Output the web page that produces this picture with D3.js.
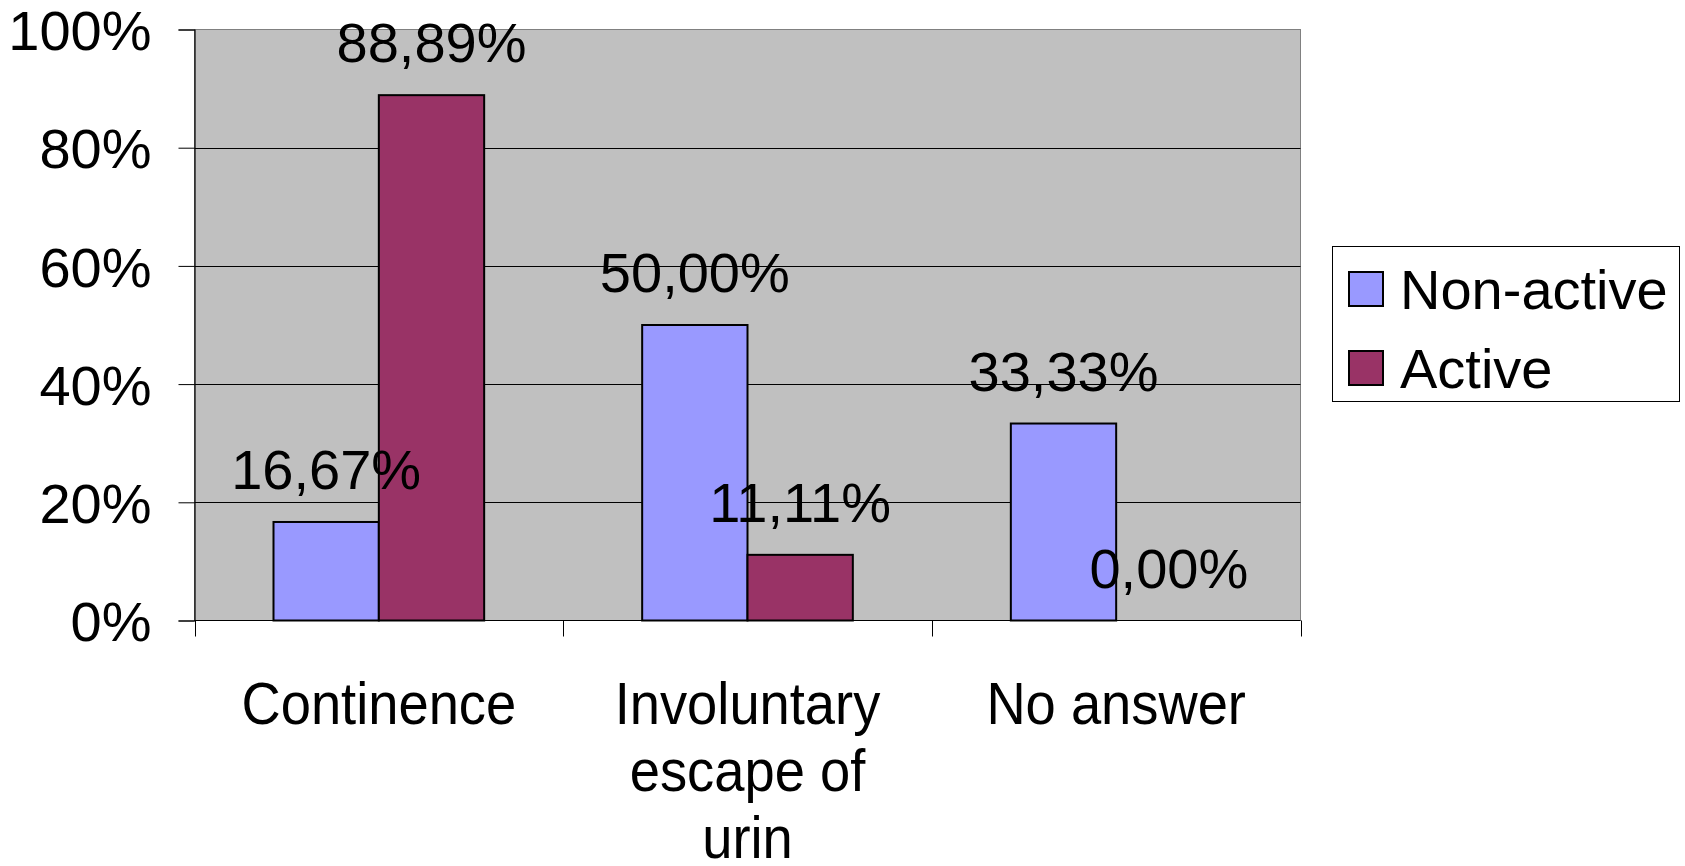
<!DOCTYPE html>
<html>
<head>
<meta charset="utf-8">
<script src="https://cdn.jsdelivr.net/npm/d3@7"></script>
<style>
  html, body { margin: 0; padding: 0; background: #fff; }
  svg { display: block; font-family: "Liberation Sans", Arial, sans-serif; }
</style>
</head>
<body>
<svg id="chart" width="1685" height="866"></svg>
<script>
// Survey answers, share of respondents per group (%)
const categories = ["Continence", "Involuntary escape of urin", "No answer"];
const categoryLines = [["Continence"], ["Involuntary", "escape of", "urin"], ["No answer"]];
const seriesNames = ["Non-active", "Active"];
const nonActive = [16.67, 50.00, 33.33];
const active = [88.89, 11.11, 0.00];
const yTicks = [0, 20, 40, 60, 80, 100];
const seriesColors = ["#9999FF", "#993366"];

const svg = d3.select("#chart");
const plot = { left: 194.5, right: 1300.5, top: 29.5, bottom: 620.5 };
const fontSize = 56;

const x = d3.scaleBand().domain(categories).range([plot.left, plot.right]);
// bars take 2 of 3.5 slots in each category (gap width 150%)
const barW = x.bandwidth() / 3.5;
const y = d3.scaleLinear().domain([0, 100]).range([plot.bottom, plot.top]);

const fmt = v => v.toFixed(2).replace(".", ",") + "%";

// plot background
svg.append("rect")
  .attr("x", plot.left).attr("y", plot.top)
  .attr("width", plot.right - plot.left).attr("height", plot.bottom - plot.top)
  .attr("fill", "#C0C0C0").attr("stroke", "#808080").attr("stroke-width", 1);

// horizontal gridlines
svg.append("g").selectAll("line")
  .data(yTicks.filter(t => t > 0 && t < 100))
  .join("line")
  .attr("x1", plot.left).attr("x2", plot.right)
  .attr("y1", d => Math.round(y(d)) + 0.5).attr("y2", d => Math.round(y(d)) + 0.5)
  .attr("stroke", "#000").attr("stroke-width", 1);

// bars
const series = [nonActive, active];
series.forEach((vals, si) => {
  svg.append("g").selectAll("rect")
    .data(categories)
    .join("rect")
    .attr("x", (c) => x(c) + 0.75 * barW + si * barW)
    .attr("y", (c, i) => y(vals[i]))
    .attr("width", barW)
    .attr("height", (c, i) => y(0) - y(vals[i]))
    .attr("fill", seriesColors[si])
    .attr("stroke", "#000").attr("stroke-width", 2);
});

// y axis
const yAxis = d3.axisLeft(y).tickValues(yTicks).tickSize(16).tickPadding(27)
  .tickFormat(d => d + "%");
const gy = svg.append("g").attr("transform", `translate(${plot.left},0)`).call(yAxis);
gy.select(".domain").attr("stroke", "#000").attr("stroke-width", 1.2);
gy.selectAll(".tick line").attr("stroke", "#000");
gy.selectAll(".tick text").attr("font-size", fontSize).attr("fill", "#000")
  .attr("font-family", "Liberation Sans, Arial, sans-serif").attr("dy", "0.36em");

// x axis line and category separators
svg.append("line")
  .attr("x1", plot.left).attr("x2", plot.right)
  .attr("y1", plot.bottom).attr("y2", plot.bottom)
  .attr("stroke", "#000").attr("stroke-width", 1.2);
const bounds = categories.map(c => x(c)).concat([x(categories[categories.length - 1]) + x.bandwidth()]);
svg.append("g").selectAll("line")
  .data(bounds).join("line")
  .attr("x1", d => Math.round(d) + 0.5).attr("x2", d => Math.round(d) + 0.5)
  .attr("y1", plot.bottom).attr("y2", plot.bottom + 16)
  .attr("stroke", "#000").attr("stroke-width", 1);

// category labels: slightly condensed, one text per wrapped line
const lineGap = 67;
categories.forEach((c, i) => {
  const cx = x(c) + x.bandwidth() / 2;
  categoryLines[i].forEach((ln, k) => {
    const by = 724 + k * lineGap;
    svg.append("text")
      .attr("transform", `translate(${cx},${by}) scale(0.97,1.06)`)
      .attr("text-anchor", "middle")
      .attr("font-size", fontSize)
      .attr("fill", "#000")
      .text(ln);
  });
});

// value labels above bars
series.forEach((vals, si) => {
  svg.append("g").selectAll("text")
    .data(categories)
    .join("text")
    .attr("x", c => x(c) + 0.75 * barW + si * barW + barW / 2)
    .attr("y", (c, i) => y(vals[i]) - 33)
    .attr("text-anchor", "middle")
    .attr("font-size", fontSize)
    .attr("fill", "#000")
    .text((c, i) => fmt(vals[i]));
});

// legend
const lg = svg.append("g");
lg.append("rect")
  .attr("x", 1332.5).attr("y", 246.5).attr("width", 347).attr("height", 155)
  .attr("fill", "#fff").attr("stroke", "#000").attr("stroke-width", 1);
seriesNames.forEach((name, i) => {
  const cy = 289 + i * 79;
  lg.append("rect")
    .attr("x", 1349).attr("y", cy - 17).attr("width", 34).attr("height", 34)
    .attr("fill", seriesColors[i]).attr("stroke", "#000").attr("stroke-width", 2);
  lg.append("text")
    .attr("x", 1400).attr("y", cy + 20)
    .attr("font-size", fontSize).attr("fill", "#000")
    .text(name);
});
</script>
</body>
</html>
